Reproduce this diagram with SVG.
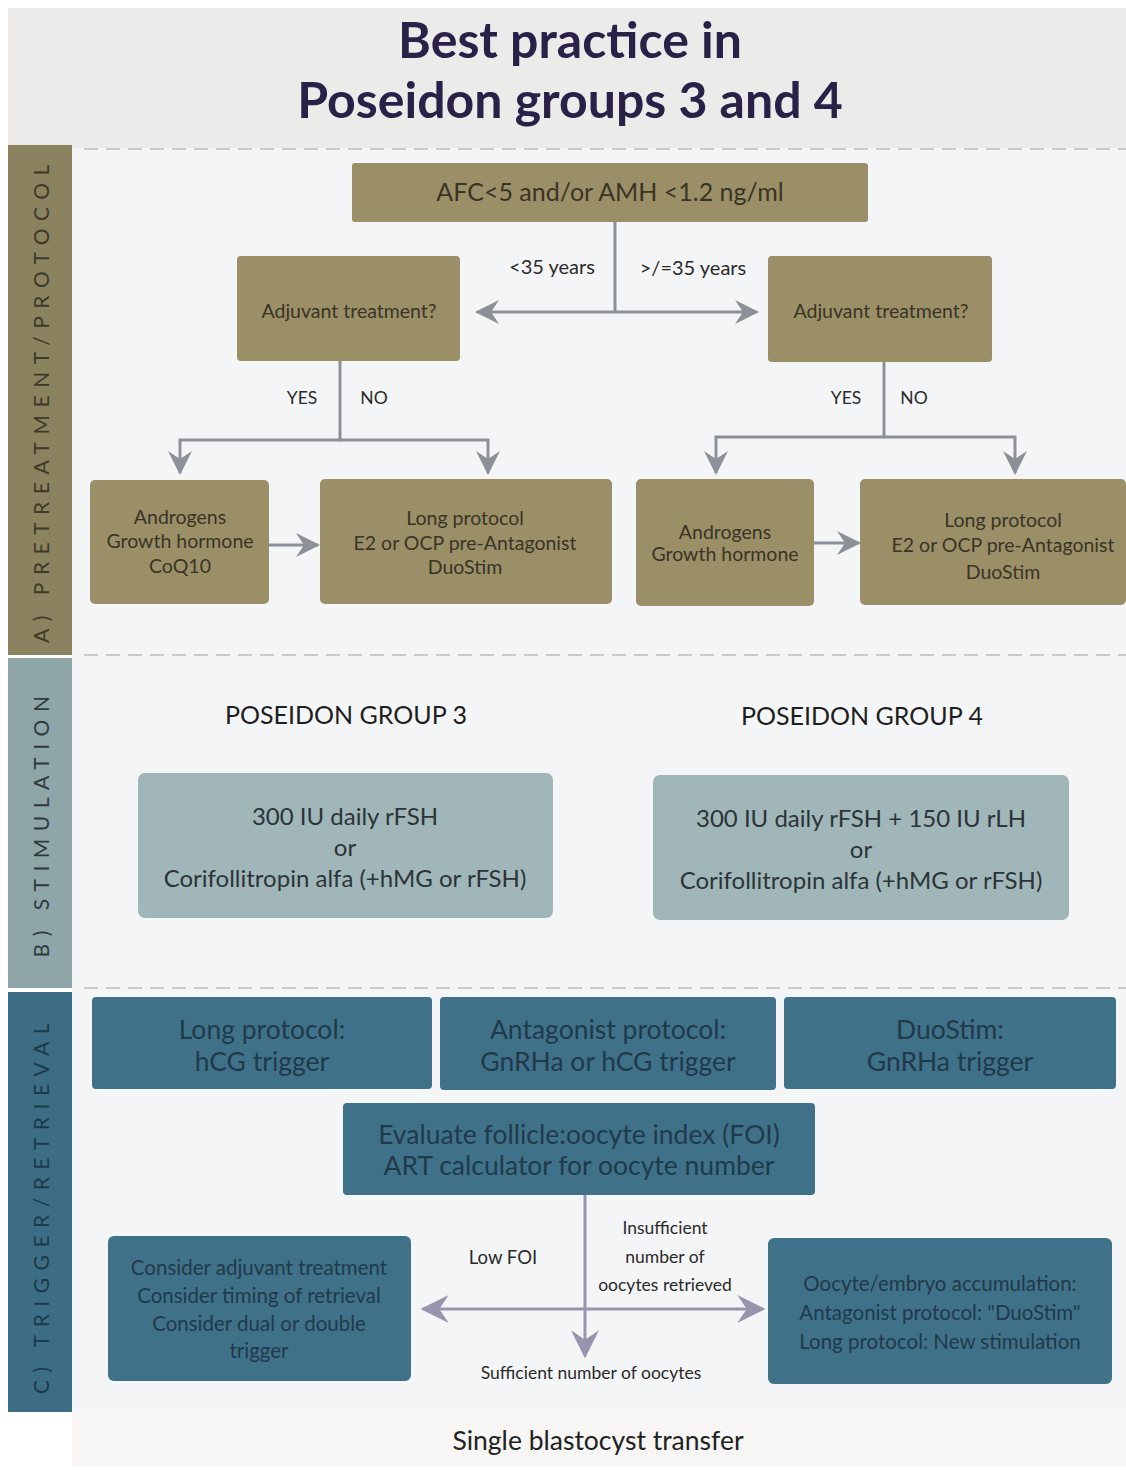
<svg xmlns="http://www.w3.org/2000/svg" width="1126" height="1470" viewBox="0 0 1126 1470">
<defs>
<style>
text{font-family:Lato,"Open Sans","Liberation Sans",sans-serif;text-anchor:middle}
.title{font-size:50px;font-weight:bold;fill:#2b2148}
.side{font-size:21px;letter-spacing:7.5px}
.olive{fill:#9b8f68}
.ot{font-size:19.5px;fill:#3a3424}
.teal{fill:#a0b6b9}
.tt{font-size:24px;fill:#2b3436}
.blue{fill:#3f7189}
.bt{font-size:26.5px;fill:#1f3a4a}
.bs{font-size:20.5px;fill:#1f3a4a}
.lbl{font-size:17.5px;fill:#2a2a2a}
.conn{stroke:#8c9198;stroke-width:3;fill:none}
.conn2{stroke:#9a93ad;stroke-width:3;fill:none}
.dash{stroke:#c9cacc;stroke-width:2;stroke-dasharray:14 8}
</style>
<marker id="ah" viewBox="0 0 12 12" refX="11" refY="6" markerWidth="24" markerHeight="24" markerUnits="userSpaceOnUse" orient="auto">
<path d="M0,0 L12,6 L0,12 L4,6 z" fill="#8c9198"/>
</marker>
<marker id="ah2" viewBox="0 0 12 12" refX="11" refY="6" markerWidth="28" markerHeight="28" markerUnits="userSpaceOnUse" orient="auto">
<path d="M0,0 L12,6 L0,12 L4,6 z" fill="#9a93ad"/>
</marker>
</defs>
<rect width="1126" height="1470" fill="#ffffff"/>
<rect x="8" y="8" width="1118" height="140" fill="#ecebea"/>
<rect x="72" y="148" width="1054" height="1264" fill="#f4f5f6"/>
<rect x="72" y="1412" width="1054" height="54" fill="#f7f6f4"/>
<g id="title">
<text class="title" x="570" y="58">Best practice in</text>
<text class="title" x="570" y="118">Poseidon groups 3 and 4</text>
</g>
<g id="sections">
<rect x="8" y="145" width="64" height="510" fill="#8b8260"/>
<text class="side" fill="#3e3a28" transform="translate(42 400) rotate(-90)" dy="7">A) PRETREATMENT/PROTOCOL</text>
<rect x="8" y="658" width="64" height="330" fill="#8fa6a9"/>
<text class="side" fill="#2e3a3c" transform="translate(42 823) rotate(-90)" dy="7">B) STIMULATION</text>
<rect x="8" y="992" width="64" height="420" fill="#3d6d85"/>
<text class="side" fill="#1c3a4c" transform="translate(42 1205) rotate(-90)" dy="7">C) TRIGGER/RETRIEVAL</text>
<line class="dash" x1="84" y1="149" x2="1126" y2="149"/>
<line class="dash" x1="84" y1="655" x2="1126" y2="655"/>
<line class="dash" x1="84" y1="988" x2="1126" y2="988"/>
</g>
<g id="connectors">
<line class="conn" x1="615" y1="222" x2="615" y2="312"/>
<line class="conn" x1="615" y1="312" x2="477" y2="312" marker-end="url(#ah)"/>
<line class="conn" x1="615" y1="312" x2="757" y2="312" marker-end="url(#ah)"/>
<path class="conn" d="M340 361 V440 H180 V473" marker-end="url(#ah)"/>
<path class="conn" d="M340 440 H488 V473" marker-end="url(#ah)"/>
<path class="conn" d="M884 362 V437 H716 V473" marker-end="url(#ah)"/>
<path class="conn" d="M884 437 H1015 V473" marker-end="url(#ah)"/>
<line class="conn" x1="269" y1="545" x2="318" y2="545" marker-end="url(#ah)"/>
<line class="conn" x1="814" y1="543" x2="859" y2="543" marker-end="url(#ah)"/>
<line class="conn2" x1="585" y1="1195" x2="585" y2="1356" marker-end="url(#ah2)"/>
<line class="conn2" x1="585" y1="1309" x2="423" y2="1309" marker-end="url(#ah2)"/>
<line class="conn2" x1="585" y1="1309" x2="763" y2="1309" marker-end="url(#ah2)"/>
<text class="lbl" style="font-size:20px" x="552" y="274">&lt;35 years</text>
<text class="lbl" style="font-size:20px" x="693" y="275">&gt;/=35 years</text>
<text class="lbl" x="302" y="404">YES</text>
<text class="lbl" x="374" y="404">NO</text>
<text class="lbl" x="846" y="404">YES</text>
<text class="lbl" x="914" y="404">NO</text>
<text class="lbl" style="font-size:18.5px" x="503" y="1264">Low FOI</text>
<text class="lbl" x="665" y="1234">Insufficient</text>
<text class="lbl" x="665" y="1263">number of</text>
<text class="lbl" x="665" y="1291">oocytes retrieved</text>
<text class="lbl" x="591" y="1379">Sufficient number of oocytes</text>
</g>
<g id="afc">
<rect class="olive" x="352" y="163" width="516" height="59" rx="3"/>
<text class="ot" style="font-size:25px" x="610" y="201">AFC&lt;5 and/or AMH &lt;1.2 ng/ml</text>
</g>
<g id="adj-left">
<rect class="olive" x="237" y="256" width="223" height="105" rx="4"/>
<text class="ot" x="349" y="318">Adjuvant treatment?</text>
</g>
<g id="adj-right">
<rect class="olive" x="768" y="256" width="224" height="106" rx="4"/>
<text class="ot" x="881" y="318">Adjuvant treatment?</text>
</g>
<g id="andro-left">
<rect class="olive" x="90" y="480" width="179" height="124" rx="5"/>
<text class="ot" x="180" y="524">Androgens</text>
<text class="ot" x="180" y="548">Growth hormone</text>
<text class="ot" x="180" y="573">CoQ10</text>
</g>
<g id="long-left">
<rect class="olive" x="320" y="479" width="292" height="125" rx="5"/>
<text class="ot" x="465" y="525">Long protocol</text>
<text class="ot" x="465" y="550">E2 or OCP pre-Antagonist</text>
<text class="ot" x="465" y="574">DuoStim</text>
</g>
<g id="andro-right">
<rect class="olive" x="636" y="479" width="178" height="127" rx="5"/>
<text class="ot" x="725" y="539">Androgens</text>
<text class="ot" x="725" y="561">Growth hormone</text>
</g>
<g id="long-right">
<rect class="olive" x="860" y="479" width="266" height="126" rx="5"/>
<text class="ot" x="1003" y="527">Long protocol</text>
<text class="ot" x="1003" y="552">E2 or OCP pre-Antagonist</text>
<text class="ot" x="1003" y="579">DuoStim</text>
</g>
<g id="group3">
<text class="tt" style="fill:#1e1e1e;font-size:25px" x="346" y="724">POSEIDON GROUP 3</text>
<rect class="teal" x="138" y="773" width="415" height="145" rx="7"/>
<text class="tt" x="345" y="825">300 IU daily rFSH</text>
<text class="tt" x="345" y="856">or</text>
<text class="tt" x="345" y="887">Corifollitropin alfa (+hMG or rFSH)</text>
</g>
<g id="group4">
<text class="tt" style="fill:#1e1e1e;font-size:25px" x="862" y="725">POSEIDON GROUP 4</text>
<rect class="teal" x="653" y="775" width="416" height="145" rx="7"/>
<text class="tt" x="861" y="827">300 IU daily rFSH + 150 IU rLH</text>
<text class="tt" x="861" y="858">or</text>
<text class="tt" x="861" y="889">Corifollitropin alfa (+hMG or rFSH)</text>
</g>
<g id="trig-long">
<rect class="blue" x="92" y="997" width="340" height="92" rx="4"/>
<text class="bt" x="262" y="1039">Long protocol:</text>
<text class="bt" x="262" y="1071">hCG trigger</text>
</g>
<g id="trig-antag">
<rect class="blue" x="440" y="997" width="336" height="93" rx="4"/>
<text class="bt" x="608" y="1039">Antagonist protocol:</text>
<text class="bt" x="608" y="1071">GnRHa or hCG trigger</text>
</g>
<g id="trig-duo">
<rect class="blue" x="784" y="997" width="332" height="92" rx="4"/>
<text class="bt" x="950" y="1039">DuoStim:</text>
<text class="bt" x="950" y="1071">GnRHa trigger</text>
</g>
<g id="evaluate">
<rect class="blue" x="343" y="1103" width="472" height="92" rx="4"/>
<text class="bt" x="579" y="1144">Evaluate follicle:oocyte index (FOI)</text>
<text class="bt" x="579" y="1175">ART calculator for oocyte number</text>
</g>
<g id="low-foi">
<rect class="blue" x="108" y="1236" width="303" height="145" rx="6"/>
<text class="bs" x="259" y="1275">Consider adjuvant treatment</text>
<text class="bs" x="259" y="1303">Consider timing of retrieval</text>
<text class="bs" x="259" y="1331">Consider dual or double</text>
<text class="bs" x="259" y="1358">trigger</text>
</g>
<g id="accum">
<rect class="blue" x="768" y="1238" width="344" height="146" rx="6"/>
<text class="bs" x="940" y="1291">Oocyte/embryo accumulation:</text>
<text class="bs" x="940" y="1320">Antagonist protocol: "DuoStim"</text>
<text class="bs" x="940" y="1349">Long protocol: New stimulation</text>
</g>
<g id="transfer">
<text style="font-size:26.5px;fill:#222" x="598" y="1450">Single blastocyst transfer</text>
</g>
</svg>
